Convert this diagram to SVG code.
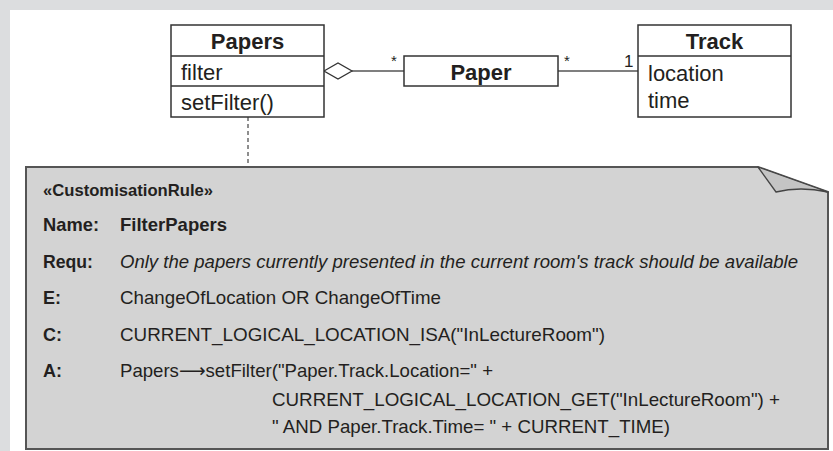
<svg xmlns="http://www.w3.org/2000/svg" width="833" height="451" viewBox="0 0 833 451">
<style>
.box{fill:#fff;stroke:#333;stroke-width:1.5}
.t{font-family:"Liberation Sans","DejaVu Sans",Arial,sans-serif;fill:#231f20}
.bt{font-size:22px}
.b{font-weight:bold}
.n{font-size:19px}
.it{font-size:18.6px;font-style:italic}
.conn{stroke:#555;stroke-width:1.3;fill:none}
</style>
<rect x="0" y="0" width="833" height="451" fill="#dcdddf"/>
<rect x="10" y="10" width="823" height="441" fill="#fff"/>
<g id="connectors">
<path class="conn" d="M352,71 L404,71"/>
<path d="M324,71 L338,63 L352,71 L338,79 Z" fill="#fff" stroke="#333" stroke-width="1.3"/>
<path class="conn" d="M558,71 L638,71"/>
<path d="M248,117 L248,167" stroke="#444" stroke-width="1.2" stroke-dasharray="4,3" fill="none"/>
<text class="t" x="391" y="66" font-size="15">*</text>
<text class="t" x="564" y="66" font-size="15">*</text>
<text class="t" x="624" y="67" font-size="17">1</text>
</g>
<g id="Papers">
<rect class="box" x="171" y="25" width="153" height="92"/>
<line x1="171" y1="56" x2="324" y2="56" stroke="#333" stroke-width="1.5"/>
<line x1="171" y1="86" x2="324" y2="86" stroke="#333" stroke-width="1.5"/>
<text class="t bt b" x="247.5" y="49" text-anchor="middle">Papers</text>
<text class="t bt" x="181" y="80">filter</text>
<text class="t bt" x="181" y="110">setFilter()</text>
</g>
<g id="Paper">
<rect class="box" x="404" y="56" width="154" height="30"/>
<text class="t bt b" x="481" y="80" text-anchor="middle">Paper</text>
</g>
<g id="Track">
<rect class="box" x="638" y="25" width="153" height="92"/>
<line x1="638" y1="56" x2="791" y2="56" stroke="#333" stroke-width="1.5"/>
<text class="t bt b" x="714.5" y="49" text-anchor="middle">Track</text>
<text class="t bt" x="648" y="81">location</text>
<text class="t bt" x="648" y="108">time</text>
</g>
<g id="CustomisationRule">
<path d="M26,167 L758,167 L828,192 L828,449 L26,449 Z" fill="#d3d3d3" stroke="#555" stroke-width="2"/>
<path d="M758,167 L776,192 Q800,186 828,192 Z" fill="#c4c4c4" stroke="#444" stroke-width="1.3" stroke-linejoin="round"/>
<text class="t b" x="43" y="196" font-size="16.5" textLength="170" lengthAdjust="spacingAndGlyphs">«CustomisationRule»</text>
<text class="t n b" x="43" y="231" textLength="56" lengthAdjust="spacingAndGlyphs">Name:</text>
<text class="t n b" x="120" y="231" textLength="107" lengthAdjust="spacingAndGlyphs">FilterPapers</text>
<text class="t n b" x="43" y="268" textLength="50" lengthAdjust="spacingAndGlyphs">Requ:</text>
<text class="t it" x="120" y="268" textLength="678" lengthAdjust="spacingAndGlyphs">Only the papers currently presented in the current room's track should be available</text>
<text class="t n b" x="43" y="304" textLength="18" lengthAdjust="spacingAndGlyphs">E:</text>
<text class="t n" x="120" y="304" textLength="321" lengthAdjust="spacingAndGlyphs">ChangeOfLocation OR ChangeOfTime</text>
<text class="t n b" x="43" y="341" textLength="19" lengthAdjust="spacingAndGlyphs">C:</text>
<text class="t n" x="120" y="341" textLength="485" lengthAdjust="spacingAndGlyphs">CURRENT_LOGICAL_LOCATION_ISA("InLectureRoom")</text>
<text class="t n b" x="43" y="377" textLength="19" lengthAdjust="spacingAndGlyphs">A:</text>
<text class="t n" x="120" y="377" textLength="373" lengthAdjust="spacingAndGlyphs">Papers⟶setFilter("Paper.Track.Location=" +</text>
<text class="t n" x="272" y="406" textLength="508" lengthAdjust="spacingAndGlyphs">CURRENT_LOGICAL_LOCATION_GET("InLectureRoom") +</text>
<text class="t n" x="272" y="433" textLength="398" lengthAdjust="spacingAndGlyphs">" AND Paper.Track.Time= " + CURRENT_TIME)</text>
</g>
</svg>
